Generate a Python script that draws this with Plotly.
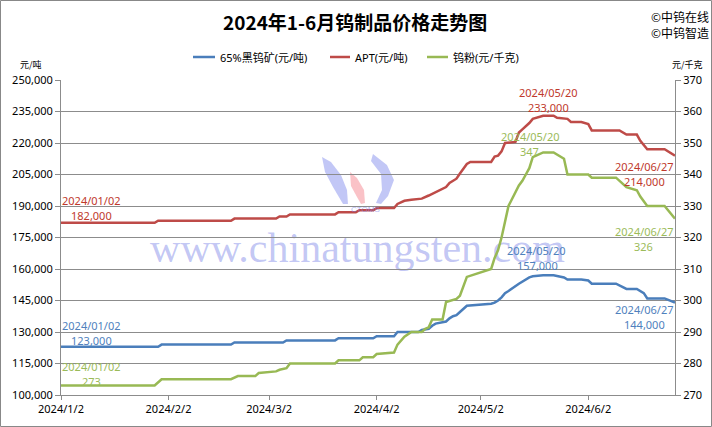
import plotly.graph_objects as go
from plotly.subplots import make_subplots

# ---------------- data ----------------
ore = [("2024-01-02",123000),("2024-01-30",123000),("2024-01-31",124000),("2024-02-20",124000),
       ("2024-02-21",125000),("2024-03-06",125000),("2024-03-07",126000),("2024-03-21",126000),
       ("2024-03-22",127000),("2024-04-01",127000),("2024-04-02",128000),("2024-04-07",128000),
       ("2024-04-08",130000),("2024-04-14",130000),("2024-04-15",131000),("2024-04-17",131500),
       ("2024-04-18",133000),("2024-04-19",134000),("2024-04-22",135000),("2024-04-23",136500),
       ("2024-04-24",137500),("2024-04-25",138000),("2024-04-26",139500),("2024-04-28",142500),
       ("2024-05-05",143500),("2024-05-06",144000),("2024-05-07",145000),("2024-05-08",146500),
       ("2024-05-09",148500),("2024-05-10",149500),("2024-05-13",153000),("2024-05-14",154000),
       ("2024-05-15",155000),("2024-05-16",156000),("2024-05-17",156500),("2024-05-20",157000),
       ("2024-05-23",157000),("2024-05-26",156000),("2024-05-27",155000),("2024-05-31",155000),
       ("2024-06-02",154500),("2024-06-03",153000),("2024-06-10",153000),("2024-06-13",150500),
       ("2024-06-16",150500),("2024-06-18",148500),("2024-06-19",146000),("2024-06-24",146000),
       ("2024-06-27",144000)]

apt = [("2024-01-02",182000),("2024-01-29",182000),("2024-01-30",183000),("2024-02-20",183000),
       ("2024-02-21",184000),("2024-03-04",184000),("2024-03-05",185000),("2024-03-07",185000),
       ("2024-03-08",186000),("2024-03-21",186000),("2024-03-22",187000),("2024-03-27",187000),
       ("2024-03-28",188000),("2024-04-01",188000),("2024-04-02",189000),("2024-04-07",189000),
       ("2024-04-08",191000),("2024-04-10",192500),("2024-04-12",193000),("2024-04-15",193500),
       ("2024-04-17",195000),("2024-04-19",196500),("2024-04-22",199000),("2024-04-23",201000),
       ("2024-04-25",203000),("2024-04-26",205500),("2024-04-28",210000),("2024-04-29",211000),
       ("2024-05-05",211000),("2024-05-06",213500),("2024-05-07",214000),("2024-05-08",216000),
       ("2024-05-09",220000),("2024-05-12",220500),("2024-05-13",225000),("2024-05-14",226500),
       ("2024-05-15",228000),("2024-05-16",229500),("2024-05-17",231500),("2024-05-20",233000),
       ("2024-05-23",233000),("2024-05-24",232000),("2024-05-27",231500),("2024-05-28",230000),
       ("2024-05-31",230000),("2024-06-02",229000),("2024-06-03",226000),("2024-06-11",226000),
       ("2024-06-13",224000),("2024-06-16",224000),("2024-06-17",221000),("2024-06-19",217000),
       ("2024-06-24",217000),("2024-06-27",214000)]

powder = [("2024-01-02",273),("2024-01-29",273),("2024-01-31",275),("2024-02-20",275),
          ("2024-02-22",276),("2024-02-27",276),("2024-02-28",277),("2024-03-04",277.5),
          ("2024-03-05",278),("2024-03-07",278.5),("2024-03-08",280),("2024-03-21",280),
          ("2024-03-22",281),("2024-03-28",281),("2024-03-29",282),("2024-04-01",282),
          ("2024-04-02",283),("2024-04-07",283.5),("2024-04-08",286),("2024-04-10",288.5),
          ("2024-04-12",290),("2024-04-15",290),("2024-04-16",291),("2024-04-17",291.5),
          ("2024-04-18",294),("2024-04-21",294),("2024-04-22",299.5),("2024-04-25",300.5),
          ("2024-04-26",301.5),("2024-04-28",307.5),("2024-05-05",310),("2024-05-06",313.5),
          ("2024-05-07",316),("2024-05-08",320),("2024-05-09",325),("2024-05-10",330),
          ("2024-05-13",336.5),("2024-05-14",338),("2024-05-15",340),("2024-05-16",342),
          ("2024-05-17",345.5),("2024-05-20",347),("2024-05-23",347),("2024-05-26",345),
          ("2024-05-27",340),("2024-06-02",340),("2024-06-03",339),("2024-06-10",339),
          ("2024-06-13",336),("2024-06-16",335),("2024-06-17",333),("2024-06-19",330),
          ("2024-06-24",330),("2024-06-27",326)]

x_tick_vals = ["2024-01-02","2024-02-02","2024-03-02","2024-04-02","2024-05-02","2024-06-02"]
x_tick_text = ["2024/1/2","2024/2/2","2024/3/2","2024/4/2","2024/5/2","2024/6/2"]
left_ticks = list(range(100000, 250001, 15000))
right_ticks = list(range(270, 371, 10))

series_names = ["65%黑钨矿(元/吨)", "APT(元/吨)", "钨粉(元/千克)"]
line_colors = ["#4A7EBB", "#BE4B48", "#98B954"]
text_colors = ["#4F81BD", "#C0392B", "#9BBB59"]

# ---------------- layout geometry ----------------
W, H = 712, 427
L, R, T, B = 61, 675, 80, 395

def px(x):
    return (x - L) / (R - L)

def py(y):
    return (B - y) / (B - T)

fig = make_subplots(specs=[[{"secondary_y": True}]])

for data, name, col, sec in [(ore, series_names[0], line_colors[0], False),
                             (apt, series_names[1], line_colors[1], False),
                             (powder, series_names[2], line_colors[2], True)]:
    fig.add_trace(go.Scatter(x=[d for d, _ in data], y=[v for _, v in data], mode="lines",
                             name=name, line=dict(color=col, width=2.5),
                             showlegend=False, hoverinfo="skip"),
                  secondary_y=sec)

grid = "#8C8C8C"
fig.update_xaxes(type="date", range=["2024-01-02", "2024-06-27"], tickvals=x_tick_vals,
                 ticktext=x_tick_text, showgrid=False, showline=True, linecolor=grid,
                 linewidth=1, ticks="outside", ticklen=4, tickcolor=grid, domain=[0, 1],
                 tickfont=dict(size=11, color="#000"), zeroline=False, automargin=False)
fig.update_yaxes(range=[100000, 250000], tickvals=left_ticks, domain=[0, 1],
                 ticktext=[f"{v:,}" for v in left_ticks], showgrid=True, gridcolor=grid,
                 gridwidth=1, showline=True, linecolor=grid, ticks="outside", ticklen=5,
                 tickcolor=grid, tickfont=dict(size=11, color="#000"), zeroline=False,
                 automargin=False, secondary_y=False)
fig.update_yaxes(range=[270, 370], tickvals=right_ticks, showgrid=False, showline=True,
                 linecolor=grid, ticks="outside", ticklen=5, tickcolor=grid,
                 tickfont=dict(size=11, color="#000"), zeroline=False, automargin=False,
                 secondary_y=True)

shapes = []
annotations = []

def note(x, y, text, size, color, family="Noto Sans", xanchor="center"):
    annotations.append(dict(x=px(x), y=py(y), xref="paper", yref="paper", text=text,
                            showarrow=False, xanchor=xanchor, yanchor="middle",
                            font=dict(size=size, color=color, family=family)))

# outer border
shapes.append(dict(type="rect", xref="paper", yref="paper",
                   x0=px(0.5), x1=px(W - 0.5), y0=py(H - 0.5), y1=py(0.5),
                   line=dict(color="#888888", width=1), fillcolor="rgba(0,0,0,0)", layer="below"))

# watermark text (below traces)
shapes.append(dict(type="rect", xref="paper", yref="paper",
                   x0=px(140), x1=px(575), y0=py(268), y1=py(218),
                   line=dict(width=0), fillcolor="rgba(0,0,0,0)", layer="below",
                   label=dict(text="www.chinatungsten.com", textposition="middle center",
                              font=dict(family="Liberation Serif", size=42,
                                        color="rgba(110,120,230,0.42)"))))

def path(points):
    return "M " + " L ".join(f"{px(a):.4f},{py(b):.4f}" for a, b in points) + " Z"

logo_blue = "rgba(120,130,235,0.45)"
logo_pink = "rgba(245,120,130,0.45)"
shapes.append(dict(type="path", xref="paper", yref="paper", layer="below",
                   path=path([(322,157),(325,172),(333,187),(343,204),(348,204),(347,190),(341,175),(331,162)]),
                   fillcolor=logo_blue, line=dict(width=0)))
shapes.append(dict(type="path", xref="paper", yref="paper", layer="below",
                   path=path([(350,172),(351,186),(357,197),(361,204),(365,203),(364,190),(357,178)]),
                   fillcolor=logo_pink, line=dict(width=0)))
shapes.append(dict(type="path", xref="paper", yref="paper", layer="below",
                   path=path([(373,154),(387,165),(394,180),(388,196),(381,204),(376,203),(382,190),(381,174),(371,161)]),
                   fillcolor=logo_blue, line=dict(width=0)))
note(365, 209, "CTOMS", 8, "rgba(120,130,235,0.6)", "Liberation Sans")

# title & corner marks
note(355, 22, "<b>2024年1-6月钨制品价格走势图</b>", 19, "#000", "Noto Sans CJK SC")
note(649, 16, "©中钨在线", 12, "#000", "Noto Sans CJK SC", xanchor="left")
note(649, 32, "©中钨智造", 12, "#000", "Noto Sans CJK SC", xanchor="left")

# axis unit labels
note(31, 65, "元/吨", 9, "#000", "Noto Sans CJK SC")
note(687, 65, "元/千克", 9, "#000", "Noto Sans CJK SC")

# manual legend
for (x0, x1, tx), name, col in zip([(193, 215, 218), (330, 350, 353), (427, 448, 451)],
                                   series_names, line_colors):
    shapes.append(dict(type="line", xref="paper", yref="paper", x0=px(x0), x1=px(x1),
                       y0=py(57), y1=py(57), line=dict(color=col, width=2.5)))
    note(tx, 57, name, 11, "#000", "Noto Sans, Noto Sans CJK SC", xanchor="left")

# data labels
labels = [
    (91, 200, "2024/01/02", 1), (91, 215, "182,000", 1),
    (91, 325, "2024/01/02", 0), (91, 340, "123,000", 0),
    (91, 366, "2024/01/02", 2), (91, 381, "273", 2),
    (548, 92, "2024/05/20", 1), (548, 107, "233,000", 1),
    (530, 136, "2024/05/20", 2), (529, 151, "347", 2),
    (536, 250, "2024/05/20", 0), (537, 265, "157,000", 0),
    (644, 166, "2024/06/27", 1), (644, 181, "214,000", 1),
    (644, 232, "2024/06/27", 2), (643, 246, "326", 2),
    (644, 309, "2024/06/27", 0), (644, 324, "144,000", 0),
]
for x, y, t, ci in labels:
    note(x, y, t, 11, text_colors[ci])

fig.update_layout(width=W, height=H, margin=dict(l=L, r=W - R, t=T, b=H - B, autoexpand=False),
                  paper_bgcolor="white", plot_bgcolor="white",
                  font=dict(family="Noto Sans, Noto Sans CJK SC", size=11, color="#000"),
                  shapes=shapes, annotations=annotations, showlegend=False)

fig.write_html("out.html", config={"displayModeBar": False},
               post_script="document.body.style.margin='0';")
